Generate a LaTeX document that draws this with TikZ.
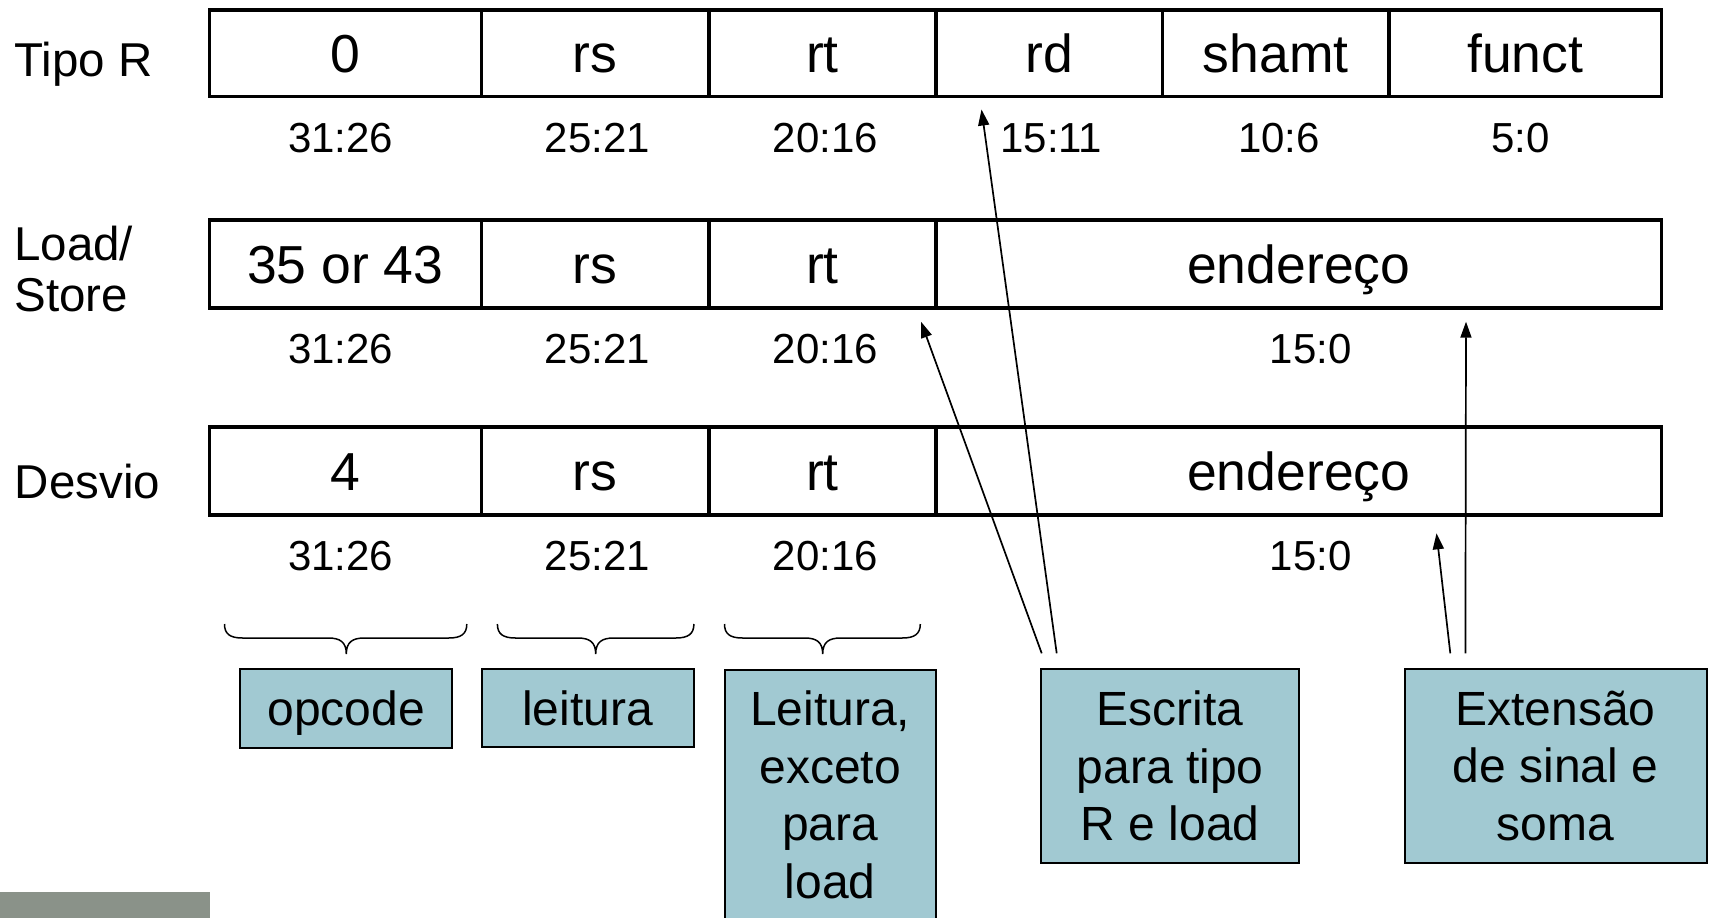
\documentclass[tikz,border=0pt]{standalone}
\usepackage{fontspec}
\setmainfont{Liberation Sans}
\usetikzlibrary{arrows.meta}
\definecolor{boxblue}{RGB}{161,201,210}
\definecolor{bargray}{RGB}{138,146,137}
\begin{document}
\begin{tikzpicture}[x=1pt,y=-1pt,
  field/.style={draw, line width=3.2pt, inner sep=0pt, text height=38.2pt, text depth=0pt, font=\fontsize{53.5}{64}\selectfont},
  bits/.style={anchor=base, inner sep=0pt, font=\fontsize{42}{50}\selectfont},
  rowlbl/.style={anchor=base west, inner sep=0pt, font=\fontsize{47.5}{52}\selectfont},
  bluebox/.style={draw, line width=2pt, fill=boxblue, align=center, inner sep=0pt, font=\fontsize{48}{57.6}\selectfont},
  oneline/.style={text height=34.4pt, text depth=0pt},
  conn/.style={line width=1.7pt, -{Triangle[length=16pt,width=11pt]}},
  bracepath/.style={line width=1.5pt}]
\clip (0,0) rectangle (1711,918);
\fill[white] (0,0) rectangle (1711,918);

% row labels
\node[rowlbl] (lblR) at (14.3,76) {Tipo R};
\node[rowlbl] (lblL1) at (14,260) {Load/};
\node[rowlbl] (lblL2) at (14.5,311.7) {Store};
\node[rowlbl] (lblD) at (14.7,498.3) {Desvio};

% row 1
\node[field, minimum width=272.2pt, minimum height=86.7pt] (r1op) at (345.4,53.35) {0};
\node[field, minimum width=227.5pt, minimum height=86.7pt] (r1rs) at (595.25,53.35) {rs};
\node[field, minimum width=227pt, minimum height=86.7pt] (r1rt) at (822.5,53.35) {rt};
\node[field, minimum width=226.3pt, minimum height=86.7pt] (r1rd) at (1049.15,53.35) {rd};
\node[field, minimum width=226.6pt, minimum height=86.7pt] (r1sh) at (1275.6,53.35) {shamt};
\node[field, minimum width=272.6pt, minimum height=86.7pt] (r1fn) at (1525.2,53.35) {funct};

% row 2
\node[field, minimum width=272.2pt, minimum height=88pt] (r2op) at (345.4,264) {35 or 43};
\node[field, minimum width=227.5pt, minimum height=88pt] (r2rs) at (595.25,264) {rs};
\node[field, minimum width=227pt, minimum height=88pt] (r2rt) at (822.5,264) {rt};
\node[field, minimum width=725.5pt, minimum height=88pt] (r2ad) at (1298.75,264) {endereço};

% row 3
\node[field, minimum width=272.2pt, minimum height=88pt] (r3op) at (345.4,471) {4};
\node[field, minimum width=227.5pt, minimum height=88pt] (r3rs) at (595.25,471) {rs};
\node[field, minimum width=227pt, minimum height=88pt] (r3rt) at (822.5,471) {rt};
\node[field, minimum width=725.5pt, minimum height=88pt] (r3ad) at (1298.75,471) {endereço};

% bit ranges
\node[bits] (b1a) at (340.6,152.7) {31:26};
\node[bits] (b1b) at (597.3,152.7) {25:21};
\node[bits] (b1c) at (825.5,152.7) {20:16};
\node[bits] (b1d) at (1051.3,152.7) {15:11};
\node[bits] (b1e) at (1279,152.7) {10:6};
\node[bits] (b1f) at (1520.8,152.7) {5:0};

\node[bits] (b2a) at (340.6,363.3) {31:26};
\node[bits] (b2b) at (597.3,363.3) {25:21};
\node[bits] (b2c) at (825.5,363.3) {20:16};
\node[bits] (b2d) at (1310.7,363.3) {15:0};

\node[bits] (b3a) at (340.6,570) {31:26};
\node[bits] (b3b) at (597.3,570) {25:21};
\node[bits] (b3c) at (825.5,570) {20:16};
\node[bits] (b3d) at (1310.7,570) {15:0};

% braces
\draw[bracepath] (224.5,624) .. controls (224.5,634) and (230,638) .. (242.5,638) -- (328.3,638) .. controls (340,638) and (346.3,642) .. (346.3,654) .. controls (346.3,642) and (352.6,638) .. (364.3,638) -- (448.8,638) .. controls (461,638) and (466.8,634) .. (466.8,624);
\draw[bracepath] (497.4,624) .. controls (497.4,634) and (503,638) .. (515.4,638) -- (577.7,638) .. controls (589.4,638) and (595.7,642) .. (595.7,654) .. controls (595.7,642) and (602,638) .. (613.7,638) -- (675.9,638) .. controls (688.1,638) and (693.9,634) .. (693.9,624);
\draw[bracepath] (724.5,624) .. controls (724.5,634) and (730,638) .. (742.5,638) -- (804.7,638) .. controls (816.4,638) and (822.7,642) .. (822.7,654) .. controls (822.7,642) and (829,638) .. (840.7,638) -- (902.3,638) .. controls (914.5,638) and (920.3,634) .. (920.3,624);

% blue boxes
\node[bluebox, oneline, minimum width=211.8pt, minimum height=78.7pt] (opc) at (346.3,708.35) {opcode};
\node[bluebox, oneline, minimum width=212.4pt, minimum height=77.7pt] (lei) at (587.7,707.85) {leitura};
\node[bluebox, anchor=north, minimum width=211.1pt, inner ysep=20.8pt, text depth=80pt] (lex) at (830.05,669) {Leitura,\\exceto\\para\\load};
\node[bluebox, minimum width=258pt, minimum height=194.3pt] (esc) at (1170.3,765.85) {Escrita\\para tipo\\R e load};
\node[bluebox, minimum width=302.1pt, minimum height=194pt] (ext) at (1555.55,766) {Extensão\\de sinal e\\soma};

% gray bar
\fill[bargray] (0,892) rectangle (210,930);

% connectors
\coordinate (e1) at (1056.7,653.3);
\coordinate (e2) at (1041.7,653.3);
\coordinate (s1) at (1450.3,653.3);
\coordinate (s2) at (1465.4,653.3);
\coordinate (t1) at (981.5,109.5);
\coordinate (t2) at (921,321.7);
\coordinate (t3) at (1466,321.7);
\coordinate (t4) at (1436.5,533.3);
\draw[conn] (e1) -- (t1);
\draw[conn] (e2) -- (t2);
\draw[conn] (s2) -- (t3);
\draw[conn] (s1) -- (t4);
\end{tikzpicture}
\end{document}
